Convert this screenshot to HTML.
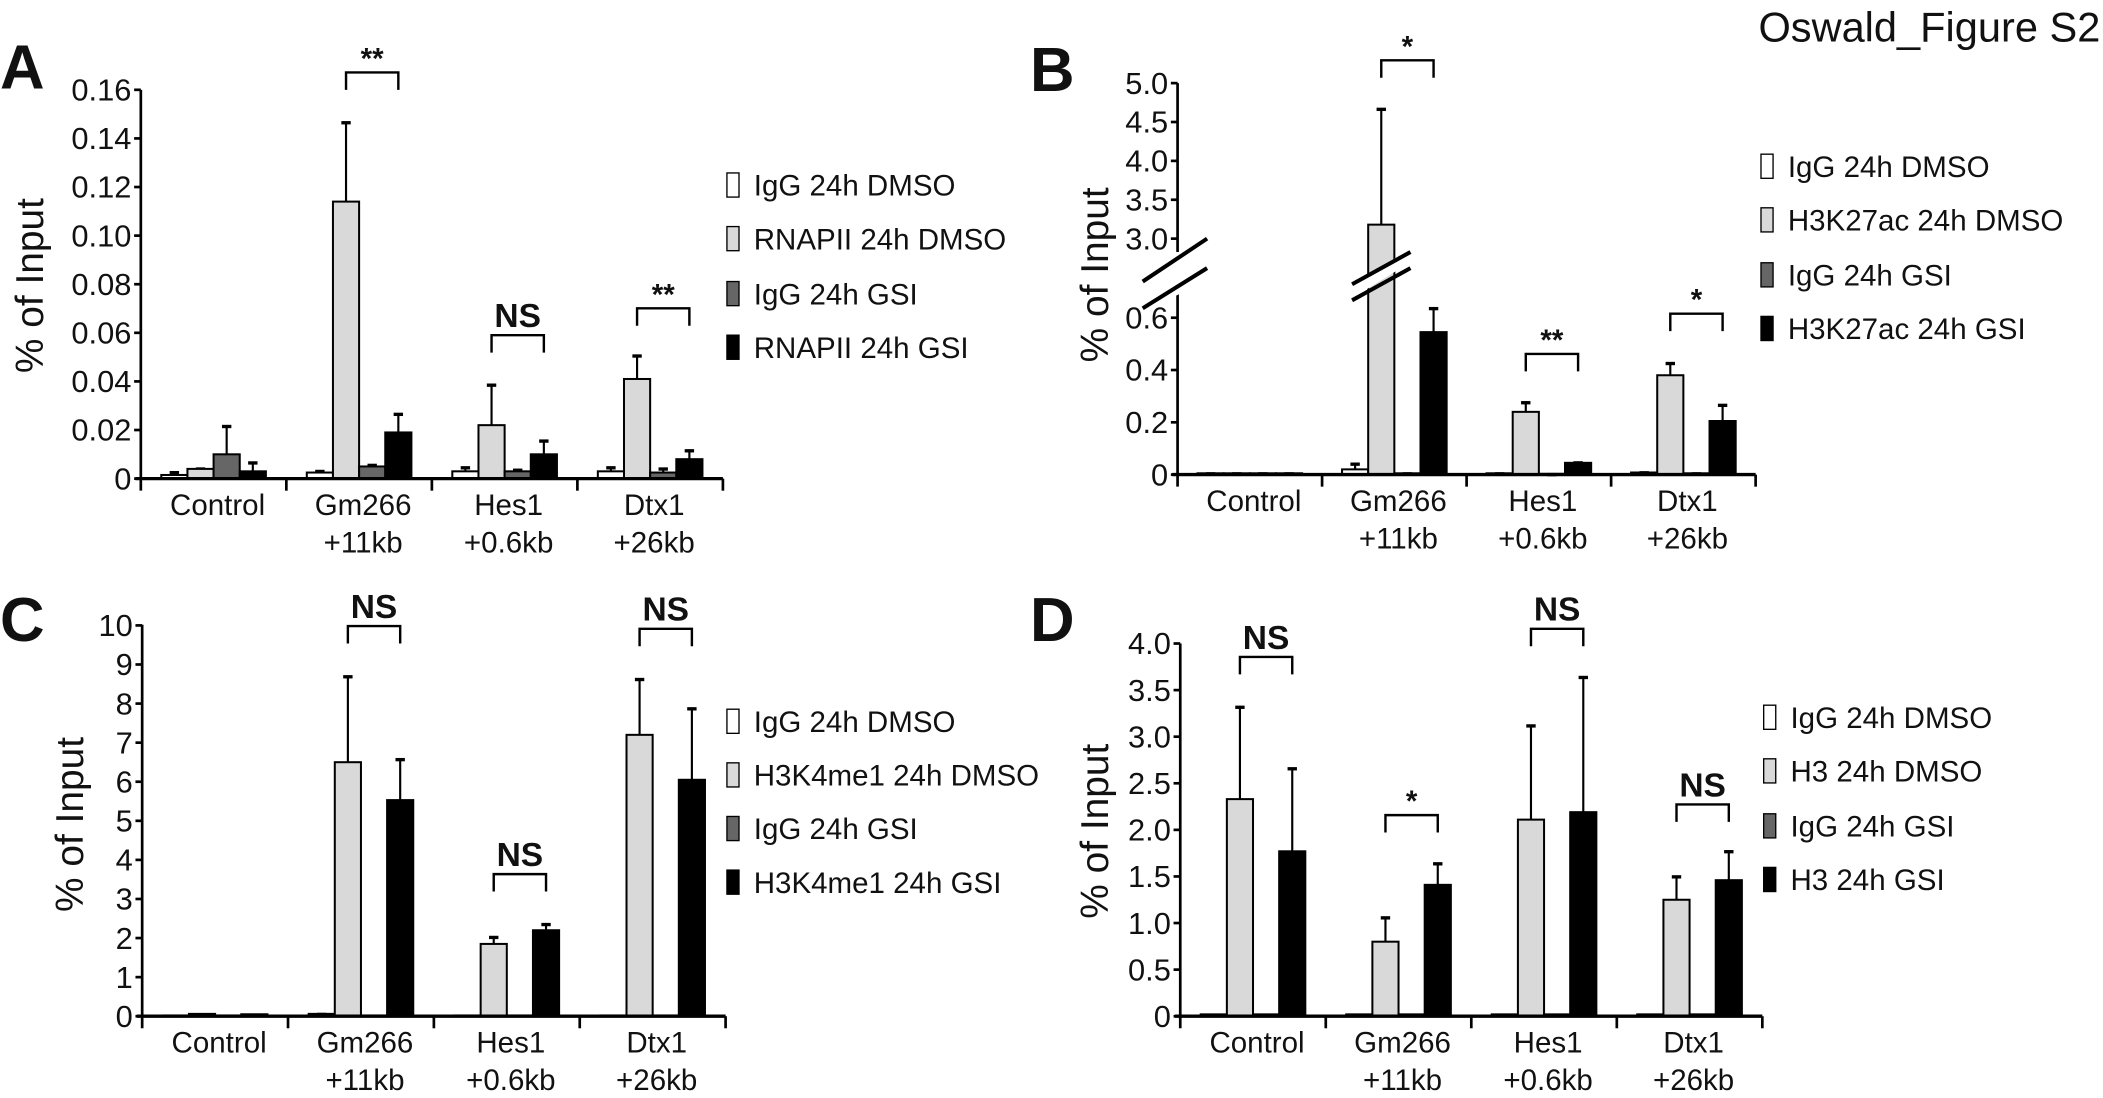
<!DOCTYPE html>
<html><head><meta charset="utf-8"><style>
html,body{margin:0;padding:0;background:#fff}
svg{display:block}
text{font-family:"Liberation Sans Narrow","Liberation Sans",sans-serif;fill:#111}
</style></head><body>
<svg id="fig" width="2103" height="1098" viewBox="0 0 1568 819" preserveAspectRatio="none" xmlns="http://www.w3.org/2000/svg">
<text x="1566" y="31" text-anchor="end" font-size="31" style="font-family:'Liberation Sans',sans-serif">Oswald_Figure S2</text>
</svg>
<script>
const categories = [["Control"],["Gm266","+11kb"],["Hes1","+0.6kb"],["Dtx1","+26kb"]];
const fills = ["#ffffff","#d9d9d9","#666666","#000000"];
// Panel A
const aLegend = ["IgG 24h DMSO","RNAPII 24h DMSO","IgG 24h GSI","RNAPII 24h GSI"];
const aValues = [[0.0015,0.004,0.010,0.003],[0.0025,0.114,0.005,0.019],[0.003,0.022,0.003,0.010],[0.003,0.041,0.0025,0.008]];
const aErrors = [[0.003,0.0045,0.022,0.007],[0.0035,0.147,0.006,0.027],[0.005,0.039,0.004,0.016],[0.005,0.051,0.0045,0.012]];
const aTicks = [0,0.02,0.04,0.06,0.08,0.10,0.12,0.14,0.16];
const aTickLabels = ["0","0.02","0.04","0.06","0.08","0.10","0.12","0.14","0.16"];
// Panel B
const bLegend = ["IgG 24h DMSO","H3K27ac 24h DMSO","IgG 24h GSI","H3K27ac 24h GSI"];
const bValues = [[0.005,0.005,0.005,0.005],[0.02,3.18,0.005,0.545],[0.005,0.24,0.003,0.045],[0.008,0.38,0.005,0.205]];
const bErrors = [[0.008,0.008,0.008,0.008],[0.045,4.68,0.008,0.64],[0.008,0.28,0.005,0.05],[0.012,0.43,0.008,0.27]];
const bTicks = [0,0.2,0.4,0.6,3.0,3.5,4.0,4.5,5.0];
const bTickLabels = ["0","0.2","0.4","0.6","3.0","3.5","4.0","4.5","5.0"];
// Panel C
const cLegend = ["IgG 24h DMSO","H3K4me1 24h DMSO","IgG 24h GSI","H3K4me1 24h GSI"];
const cValues = [[0.02,0.06,0.02,0.05],[0.06,6.5,0.02,5.53],[0.02,1.85,0.02,2.2],[0.02,7.2,0.02,6.05]];
const cErrors = [[0,0,0,0],[0.08,8.72,0,6.6],[0,2.05,0,2.38],[0,8.65,0,7.9]];
const cTicks = [0,1,2,3,4,5,6,7,8,9,10];
const cTickLabels = ["0","1","2","3","4","5","6","7","8","9","10"];
// Panel D
const dLegend = ["IgG 24h DMSO","H3 24h DMSO","IgG 24h GSI","H3 24h GSI"];
const dValues = [[0.02,2.33,0.02,1.77],[0.02,0.8,0.02,1.41],[0.02,2.11,0.02,2.19],[0.02,1.25,0.02,1.46]];
const dErrors = [[0,3.33,0,2.67],[0,1.07,0,1.65],[0,3.13,0,3.65],[0,1.51,0,1.78]];
const dTicks = [0,0.5,1.0,1.5,2.0,2.5,3.0,3.5,4.0];
const dTickLabels = ["0","0.5","1.0","1.5","2.0","2.5","3.0","3.5","4.0"];
// Significance annotations: [category, label]
const aSig = [[1,"**"],[2,"NS"],[3,"**"]];
const bSig = [[1,"*"],[2,"**"],[3,"*"]];
const cSig = [[1,"NS"],[2,"NS"],[3,"NS"]];
const dSig = [[0,"NS"],[1,"*"],[2,"NS"],[3,"NS"]];

const NS = "http://www.w3.org/2000/svg";
const svg = document.getElementById("fig");
function mk(tag, attrs, parent){const e=document.createElementNS(NS,tag);for(const k in attrs)e.setAttribute(k,attrs[k]);(parent||svg).appendChild(e);return e;}

function panel(o){
  const g = mk("g",{});
  
  
  const lt = mk("text",{x:o.letterX,y:o.letterY,"font-size":46,"font-weight":"bold",style:"font-family:'Liberation Sans',sans-serif"},g);
  lt.textContent = o.id.toUpperCase();
  
  
  const y = o.y;
  const catW = (o.x1 - o.x0)/4, bw = 19.5, off = (catW - 4*bw)/2;
  o.values.forEach((grp,ci)=>{
    grp.forEach((v,si)=>{
      const bx = o.x0 + ci*catW + off + si*bw;
      const top = y(v), err = o.errors[ci][si];
      if(err > v){
        const ey = y(err);
        const l = mk("line",{x1:bx+bw/2,x2:bx+bw/2,y1:top,y2:ey,stroke:"#000","stroke-width":1.6},g);
        
        
        mk("line",{x1:bx+bw/2-3.5,x2:bx+bw/2+3.5,y1:ey+1,y2:ey+1,stroke:"#000","stroke-width":2.5},g);
      }
      const r = mk("rect",{x:bx,y:top,width:bw,height:Math.max(o.zero-top,0.8),fill:fills[si],stroke:"#000","stroke-width":1.5},g);
      
      
      if(o.breakBar && v > o.breakBar.min){
        const b = o.breakBar;
        mk("polygon",{points:`${bx-8},${b.y1+10} ${bx+bw+8},${b.y1-12} ${bx+bw+8},${b.y1-2} ${bx-8},${b.y1+20}`,fill:"#fff"},g);
        mk("line",{x1:bx-12,y1:b.y1+12,x2:bx+bw+12,y2:b.y1-12,stroke:"#000","stroke-width":3},g);
        mk("line",{x1:bx-12,y1:b.y1+24,x2:bx+bw+12,y2:b.y1,stroke:"#000","stroke-width":3},g);
      }
    });
  });
  if(o.axisBreak){
    const b=o.axisBreak;
    mk("line",{x1:o.x0,x2:o.x0,y1:o.top,y2:b.y0,stroke:"#000","stroke-width":2},g);
    mk("line",{x1:o.x0,x2:o.x0,y1:b.y1,y2:o.zero+9,stroke:"#000","stroke-width":2},g);
    mk("polygon",{points:`${o.x0-25},${b.y0+20} ${o.x0+25},${b.y0-12} ${o.x0+25},${b.y1-6} ${o.x0-25},${b.y1+18}`,fill:"#fff"},g);
    mk("line",{x1:o.x0-26,y1:b.y0+22,x2:o.x0+22,y2:b.y0-10,stroke:"#000","stroke-width":3},g);
    mk("line",{x1:o.x0-26,y1:b.y1+16,x2:o.x0+22,y2:b.y1-14,stroke:"#000","stroke-width":3},g);
  } else {
    mk("line",{x1:o.x0,x2:o.x0,y1:o.top,y2:o.zero+9,stroke:"#000","stroke-width":2},g);
  }
  const xa = mk("line",{x1:o.x0-4,x2:o.x1,y1:o.zero,y2:o.zero,stroke:"#000","stroke-width":2.5},g);
  
  
  for(let i=1;i<=4;i++) mk("line",{x1:o.x0+i*catW,x2:o.x0+i*catW,y1:o.zero,y2:o.zero+9,stroke:"#000","stroke-width":2},g);
  o.ticks.forEach((t,i)=>{
    const ty = y(t);
    mk("line",{x1:o.x0-5,x2:o.x0,y1:ty,y2:ty,stroke:"#000","stroke-width":2},g);
    const tl = mk("text",{x:o.x0-7,y:ty+8,"text-anchor":"end","font-size":23},g);
    tl.textContent = o.tickLabels[i];
    
    
  });
  categories.forEach((c,ci)=>{
    const cx = o.x0 + (ci+0.5)*catW + 3;
    c.forEach((s,li)=>{
      const t = mk("text",{x:cx,y:o.zero+27+li*28,"text-anchor":"middle","font-size":22},g);
      t.textContent = s;
      
      
    });
  });
  const yt = mk("text",{x:0,y:0,"text-anchor":"middle","font-size":29,style:"font-family:'Liberation Sans',sans-serif",transform:`translate(${o.titleX},${o.titleY}) rotate(-90)`},g);
  yt.textContent = "% of Input";
  
  
  o.sig.forEach((s,k)=>{
    const ci = s[0], bt = o.sigY[k];
    const xa2 = o.x0 + ci*catW + off + 1.5*bw, xb = o.x0 + ci*catW + off + 3.5*bw;
    const p = mk("path",{d:`M${xa2},${bt+13} V${bt} H${xb} V${bt+13}`,fill:"none",stroke:"#000","stroke-width":1.8},g);
    
    
    const isNS = s[1]==="NS";
    const t = mk("text",{x:(xa2+xb)/2,y:isNS?bt-6:bt-3,"text-anchor":"middle","font-size":isNS?25:22,"font-weight":"bold"},g);
    t.textContent = s[1];
    
    
  });
  o.legend.forEach((s,i)=>{
    const ly = o.legY[i];
    const r = mk("rect",{x:o.legX,y:ly-9,width:9,height:18,fill:fills[i],stroke:"#000","stroke-width":1},g);
    
    
    const t = mk("text",{x:o.legX+20,y:ly+8,"font-size":22},g);
    t.textContent = s;
    
    
  });
}

panel({id:"a",letterX:0,letterY:66,x0:105,x1:539,top:67,zero:357,
  y:v=>357 - v/0.16*290,values:aValues,errors:aErrors,ticks:aTicks,tickLabels:aTickLabels,
  titleX:32,titleY:213,sig:aSig,sigY:[54,250,230],legend:aLegend,legX:542,legY:[138,178,219,259]});
const yB = v => v <= 1 ? 354 - v*195 : 178 - (v-3)*58;
panel({id:"b",letterX:768,letterY:68,x0:878,x1:1309,top:62,zero:354,
  y:yB,values:bValues,errors:bErrors,ticks:bTicks,tickLabels:bTickLabels,
  titleX:826,titleY:205,sig:bSig,sigY:[45,264,234],legend:bLegend,legX:1313,legY:[124,164,205,245],
  axisBreak:{y0:188,y1:214},breakBar:{min:1,y1:200}});
panel({id:"c",letterX:0,letterY:478,x0:106,x1:541,top:466,zero:758,
  y:v=>758 - v*29.15,values:cValues,errors:cErrors,ticks:cTicks,tickLabels:cTickLabels,
  titleX:62,titleY:615,sig:cSig,sigY:[467,652,469],legend:cLegend,legX:542,legY:[538,578,618,658]});
panel({id:"d",letterX:768,letterY:478,x0:880,x1:1314,top:480,zero:758,
  y:v=>758 - v*69.5,values:dValues,errors:dErrors,ticks:dTicks,tickLabels:dTickLabels,
  titleX:826,titleY:620,sig:dSig,sigY:[490,608,469,600],legend:dLegend,legX:1315,legY:[535,575,616,656]});
</script>
</body></html>
